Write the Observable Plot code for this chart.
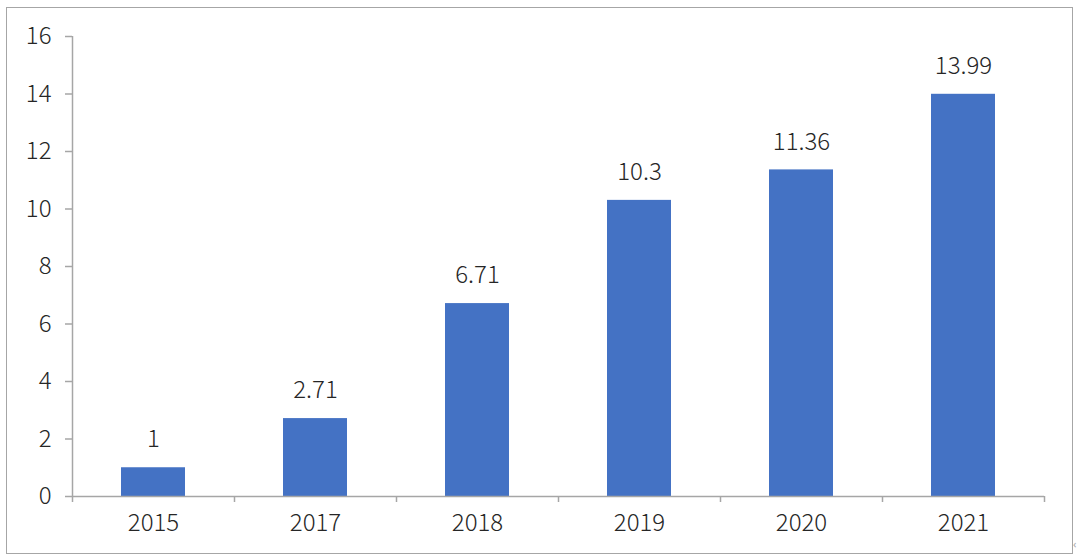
<!DOCTYPE html>
<html>
<head>
<meta charset="utf-8">
<script src="https://cdn.jsdelivr.net/npm/d3@7"></script>
<script src="https://cdn.jsdelivr.net/npm/@observablehq/plot@0.6"></script>
<style>
  html, body { margin: 0; padding: 0; background: #fff; }
  #wrap { position: relative; width: 1080px; height: 559px; }
  #border { position: absolute; left: 6px; top: 7px; width: 1067px; height: 547px; border: 1.5px solid #a6a6a6; box-sizing: border-box; pointer-events: none; }
  #mark { position: absolute; left: 1073px; top: 536px; font: 11px "Noto Sans", sans-serif; color: #aaa; }
  svg text { font-weight: 300; }
</style>
</head>
<body>
<div id="wrap"><div id="border"></div><div id="mark">‹</div></div>
<script>
const years = ["2015", "2017", "2018", "2019", "2020", "2021"];
const values = [1, 2.71, 6.71, 10.3, 11.36, 13.99];
const labels = ["1", "2.71", "6.71", "10.3", "11.36", "13.99"];
const yTicks = [0, 2, 4, 6, 8, 10, 12, 14, 16];

const data = years.map((y, i) => ({year: y, i, value: values[i], label: labels[i]}));
const boundaries = d3.range(years.length + 1);

const font = '"Noto Sans CJK SC", "Noto Sans", sans-serif';
const textColor = "#262626";
const axisColor = "#a6a6a6";

const chart = Plot.plot({
  width: 1080,
  height: 559,
  marginLeft: 72,
  marginRight: 36,
  marginTop: 36,
  marginBottom: 63,
  style: {fontFamily: font, fontSize: "24px", color: textColor, background: "transparent"},
  x: {domain: [0, years.length], axis: null},
  y: {domain: [0, 16], axis: null},
  marks: [
    Plot.rectY(data, {x1: "i", x2: d => d.i + 1, y: "value", fill: "#4472C4", insetLeft: 49, insetRight: 49}),
    Plot.ruleY([0], {stroke: axisColor, strokeWidth: 1.5}),
    Plot.ruleX([0], {stroke: axisColor, strokeWidth: 1.5}),
    Plot.axisY({ticks: yTicks, tickSize: 7, tickPadding: 14, stroke: axisColor, strokeWidth: 1.5, fontSize: 24, fill: textColor, label: null}),
    Plot.axisX({ticks: boundaries, tickSize: 6, tickFormat: () => "", stroke: axisColor, strokeWidth: 1.5, label: null}),
    Plot.text(data, {x: d => d.i + 0.5, y: 0, text: "year", dy: 27, fontSize: 24, fill: textColor}),
    Plot.text(data, {x: d => d.i + 0.5, y: "value", text: "label", dy: -28, fontSize: 24, fill: textColor})
  ]
});
const wrap = document.getElementById("wrap");
chart.style.position = "absolute";
chart.style.left = "0";
chart.style.top = "0";
wrap.insertBefore(chart, wrap.firstChild);
</script>
</body>
</html>
